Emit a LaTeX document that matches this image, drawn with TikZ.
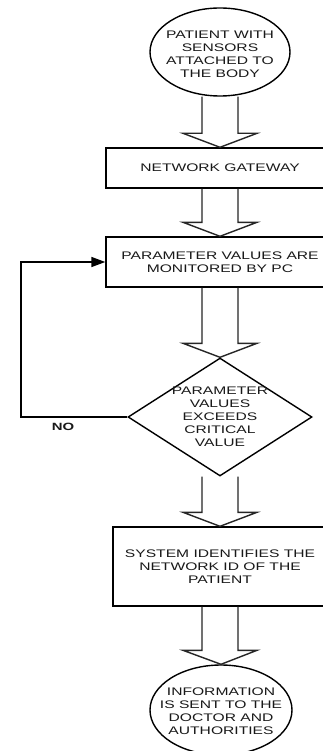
\documentclass[tikz,border=0pt]{standalone}
\usepackage{fontspec}
\newfontfamily\wide[FakeStretch=1.42]{Liberation Sans}
\usetikzlibrary{shapes.geometric,arrows.meta,calc}
\newcommand\blockarrow[2]{\draw[blk] let \p1=(#1.south), \p2=(#2.north) in
  (\x1-18pt,\y1) -- (\x1-18pt,\y2+14pt) -- (\x1-37pt,\y2+14pt) -- (\x2,\y2)
  -- (\x1+37pt,\y2+14pt) -- (\x1+18pt,\y2+14pt) -- (\x1+18pt,\y1);}
\begin{document}
\begin{tikzpicture}[x=1pt,y=-1pt,
  lab/.style={font=\wide\fontsize{11}{13}\selectfont, align=center, text=black!90, inner sep=0pt},
  shp/.style={draw=black, line width=1.4pt, inner sep=0pt},
  boxn/.style={shp, rectangle, minimum width=228pt, minimum height=40pt},
  blk/.style={draw=black!85, line width=1.4pt, line join=miter},
  loopline/.style={draw=black, line width=1.5pt, -{Triangle[length=14pt,width=10pt]}}]
\useasboundingbox (0,0) rectangle (323,751);
\fill[white] (0,0) rectangle (323,751);
% start ellipse
\node[shp, ellipse, minimum width=140pt, minimum height=88pt] (e1) at (220,52) {};
\node[lab] (t1) at (220,54) {PATIENT WITH\\SENSORS\\ATTACHED TO\\THE BODY};
% boxes
\node[boxn, lab] (b1) at (220,168) {NETWORK GATEWAY};
\node[boxn, lab, minimum height=50pt] (b2) at (220,262) {PARAMETER VALUES ARE\\MONITORED BY PC};
% decision
\node[shp, diamond, minimum width=184pt, minimum height=118pt] (d) at (220,417) {};
\node[lab] (dt) at (220,417) {PARAMETER\\VALUES\\EXCEEDS\\CRITICAL\\VALUE};
\node[boxn, lab, minimum width=214pt, minimum height=79pt] (b3) at (220,566.5) {SYSTEM IDENTIFIES THE\\NETWORK ID OF THE\\PATIENT};
% end ellipse
\node[shp, ellipse, minimum width=142pt, minimum height=90pt] (e2) at (221,710) {};
\node[lab] (t2) at (221,711) {INFORMATION\\IS SENT TO THE\\DOCTOR AND\\AUTHORITIES};
% block arrows
\blockarrow{e1}{b1}
\blockarrow{b1}{b2}
\blockarrow{b2}{d}
\blockarrow{d}{b3}
\blockarrow{b3}{e2}
% NO loop
\coordinate (c1) at (21,417);
\coordinate (c2) at (21,262);
\draw[loopline] (d.west) -- (c1) -- (c2) -- (b2.west);
\node[font=\wide\bfseries\fontsize{10.5}{12}\selectfont, text=black!90] (no) at (63,427) {NO};
\end{tikzpicture}
\end{document}
